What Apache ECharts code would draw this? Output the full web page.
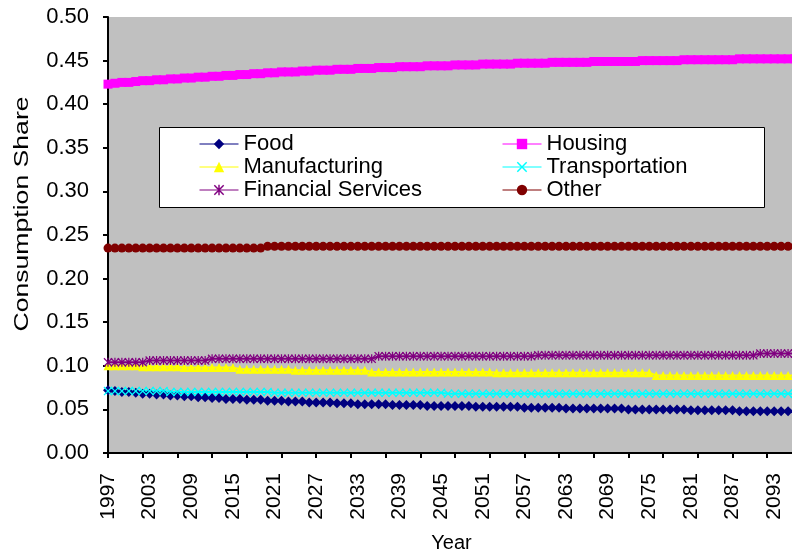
<!DOCTYPE html>
<html>
<head>
<meta charset="utf-8">
<title>Consumption Share</title>
<script src="https://cdn.jsdelivr.net/npm/echarts@6/dist/echarts.min.js"></script>
<style>
  html, body { margin: 0; padding: 0; background: #ffffff; }
  #main { width: 792px; height: 557px; }
</style>
</head>
<body>
<div id="main"></div>
<script>
// 年份
var years = [
  '1997','1998','1999','2000','2001','2002','2003','2004','2005','2006',
  '2007','2008','2009','2010','2011','2012','2013','2014','2015','2016',
  '2017','2018','2019','2020','2021','2022','2023','2024','2025','2026',
  '2027','2028','2029','2030','2031','2032','2033','2034','2035','2036',
  '2037','2038','2039','2040','2041','2042','2043','2044','2045','2046',
  '2047','2048','2049','2050','2051','2052','2053','2054','2055','2056',
  '2057','2058','2059','2060','2061','2062','2063','2064','2065','2066',
  '2067','2068','2069','2070','2071','2072','2073','2074','2075','2076',
  '2077','2078','2079','2080','2081','2082','2083','2084','2085','2086',
  '2087','2088','2089','2090','2091','2092','2093','2094','2095','2096'
];

var food = [
  0.072,0.071,0.070,0.070,0.069,0.068,0.068,0.067,0.067,0.066,
  0.066,0.065,0.065,0.064,0.064,0.063,0.063,0.062,0.062,0.062,
  0.061,0.061,0.061,0.060,0.060,0.060,0.059,0.059,0.059,0.058,
  0.058,0.058,0.058,0.057,0.057,0.057,0.056,0.056,0.056,0.056,
  0.056,0.055,0.055,0.055,0.055,0.055,0.054,0.054,0.054,0.054,
  0.054,0.054,0.054,0.053,0.053,0.053,0.053,0.053,0.053,0.053,
  0.052,0.052,0.052,0.052,0.052,0.052,0.051,0.051,0.051,0.051,
  0.051,0.051,0.051,0.051,0.051,0.050,0.050,0.050,0.050,0.050,
  0.050,0.050,0.050,0.050,0.049,0.049,0.049,0.049,0.049,0.049,
  0.049,0.048,0.048,0.048,0.048,0.048,0.048,0.048,0.048,0.048
];

var housing = [
  0.423,0.424,0.425,0.425,0.426,0.427,0.427,0.428,0.428,0.429,
  0.429,0.430,0.430,0.431,0.431,0.432,0.432,0.433,0.433,0.434,
  0.434,0.435,0.435,0.436,0.436,0.437,0.437,0.437,0.438,0.438,
  0.439,0.439,0.439,0.440,0.440,0.440,0.441,0.441,0.441,0.442,
  0.442,0.442,0.443,0.443,0.443,0.443,0.444,0.444,0.444,0.444,
  0.445,0.445,0.445,0.445,0.446,0.446,0.446,0.446,0.446,0.447,
  0.447,0.447,0.447,0.447,0.448,0.448,0.448,0.448,0.448,0.448,
  0.449,0.449,0.449,0.449,0.449,0.449,0.449,0.450,0.450,0.450,
  0.450,0.450,0.450,0.451,0.451,0.451,0.451,0.451,0.451,0.451,
  0.451,0.452,0.452,0.452,0.452,0.452,0.452,0.452,0.452,0.452
];

var manufacturing = [
  0.100,0.100,0.100,0.100,0.100,0.099,0.099,0.099,0.099,0.099,
  0.099,0.098,0.098,0.098,0.098,0.098,0.098,0.098,0.098,0.096,
  0.096,0.096,0.096,0.096,0.096,0.096,0.096,0.095,0.095,0.095,
  0.095,0.095,0.095,0.095,0.095,0.095,0.095,0.095,0.093,0.093,
  0.093,0.093,0.093,0.093,0.093,0.093,0.093,0.093,0.093,0.093,
  0.093,0.093,0.093,0.093,0.093,0.093,0.092,0.092,0.092,0.092,
  0.092,0.092,0.092,0.092,0.092,0.092,0.092,0.092,0.092,0.092,
  0.092,0.092,0.092,0.092,0.092,0.092,0.092,0.092,0.092,0.089,
  0.089,0.089,0.089,0.089,0.089,0.089,0.089,0.089,0.089,0.089,
  0.089,0.089,0.089,0.089,0.089,0.089,0.089,0.089,0.089,0.089
];

var transportation = [
  0.071,0.071,0.071,0.071,0.071,0.071,0.071,0.071,0.071,0.070,
  0.070,0.070,0.070,0.070,0.070,0.070,0.070,0.070,0.070,0.070,
  0.070,0.070,0.070,0.070,0.069,0.069,0.069,0.069,0.069,0.069,
  0.069,0.069,0.069,0.069,0.069,0.069,0.069,0.069,0.069,0.069,
  0.069,0.069,0.069,0.069,0.069,0.069,0.069,0.069,0.069,0.068,
  0.068,0.068,0.068,0.068,0.068,0.068,0.068,0.068,0.068,0.068,
  0.068,0.068,0.068,0.068,0.068,0.068,0.068,0.068,0.068,0.068,
  0.068,0.068,0.068,0.068,0.068,0.068,0.068,0.068,0.068,0.068,
  0.068,0.068,0.068,0.068,0.068,0.068,0.068,0.068,0.068,0.068,
  0.068,0.068,0.068,0.068,0.068,0.068,0.068,0.068,0.068,0.068
];

var financial = [
  0.104,0.104,0.104,0.104,0.104,0.104,0.106,0.106,0.106,0.106,
  0.106,0.106,0.106,0.106,0.106,0.108,0.108,0.108,0.108,0.108,
  0.108,0.108,0.108,0.108,0.108,0.108,0.108,0.108,0.108,0.108,
  0.108,0.108,0.108,0.108,0.108,0.108,0.108,0.108,0.108,0.111,
  0.111,0.111,0.111,0.111,0.111,0.111,0.111,0.111,0.111,0.111,
  0.111,0.111,0.111,0.111,0.111,0.111,0.111,0.111,0.111,0.111,
  0.111,0.111,0.112,0.112,0.112,0.112,0.112,0.112,0.112,0.112,
  0.112,0.112,0.112,0.112,0.112,0.112,0.112,0.112,0.112,0.112,
  0.112,0.112,0.112,0.112,0.112,0.112,0.112,0.112,0.112,0.112,
  0.112,0.112,0.112,0.112,0.114,0.114,0.114,0.114,0.114,0.114
];

var other = [
  0.235,0.235,0.235,0.235,0.235,0.235,0.235,0.235,0.235,0.235,
  0.235,0.235,0.235,0.235,0.235,0.235,0.235,0.235,0.235,0.235,
  0.235,0.235,0.235,0.237,0.237,0.237,0.237,0.237,0.237,0.237,
  0.237,0.237,0.237,0.237,0.237,0.237,0.237,0.237,0.237,0.237,
  0.237,0.237,0.237,0.237,0.237,0.237,0.237,0.237,0.237,0.237,
  0.237,0.237,0.237,0.237,0.237,0.237,0.237,0.237,0.237,0.237,
  0.237,0.237,0.237,0.237,0.237,0.237,0.237,0.237,0.237,0.237,
  0.237,0.237,0.237,0.237,0.237,0.237,0.237,0.237,0.237,0.237,
  0.237,0.237,0.237,0.237,0.237,0.237,0.237,0.237,0.237,0.237,
  0.237,0.237,0.237,0.237,0.237,0.237,0.237,0.237,0.237,0.237
];

var yTicks = ['0.00','0.05','0.10','0.15','0.20','0.25','0.30','0.35','0.40','0.45','0.50'];

// 标记形状
var xMark = 'path://M0,1 L1,0 L5,4 L9,0 L10,1 L6,5 L10,9 L9,10 L5,6 L1,10 L0,9 L4,5 Z';
var starMark = 'path://M0,1 L1,0 L5,4 L9,0 L10,1 L6,5 L10,9 L9,10 L5,6 L1,10 L0,9 L4,5 Z M4.3,0 L5.7,0 L5.7,10 L4.3,10 Z';

var FONT = 'Liberation Sans, Arial, sans-serif';

function makeSeries(name, data, color, symbol, size) {
  return {
    name: name,
    type: 'line',
    data: data,
    symbol: symbol,
    symbolSize: size,
    showAllSymbol: true,
    animation: false,
    lineStyle: { color: color, width: 2 },
    itemStyle: { color: color, borderWidth: 0 },
    emphasis: { disabled: true }
  };
}

function legendCol(names, left) {
  return {
    data: names,
    orient: 'vertical',
    left: left,
    top: 133,
    padding: 0,
    itemWidth: 39,
    itemHeight: 13,
    itemGap: 1,
    lineStyle: { width: 1 },
    textStyle: { color: '#000', fontSize: 22, fontFamily: FONT },
    z: 5
  };
}

var chart = echarts.init(document.getElementById('main'));
chart.setOption({
  animation: false,
  textStyle: { fontFamily: FONT },
  grid: {
    left: 108,
    right: -3,
    top: 17,
    bottom: 104,
    containLabel: false,
    outerBoundsMode: 'none',
    show: true,
    backgroundColor: '#c0c0c0',
    borderWidth: 0
  },
  graphic: [
    {
      type: 'rect',
      z: 3,
      shape: { x: 159.5, y: 127.5, width: 605, height: 80 },
      style: { fill: '#ffffff', stroke: '#000000', lineWidth: 1 }
    },
    {
      // 纵轴标题
      type: 'text',
      x: 22,
      y: 214,
      rotation: Math.PI / 2,
      scaleX: 1.33,
      z: 5,
      style: {
        text: 'Consumption Share',
        fill: '#000',
        font: '20px ' + FONT,
        align: 'center',
        verticalAlign: 'middle'
      }
    }
  ],
  legend: [
    legendCol(['Food', 'Manufacturing', 'Financial Services'], 199),
    legendCol(['Housing', 'Transportation', 'Other'], 502)
  ],
  xAxis: {
    type: 'category',
    data: years,
    boundaryGap: false,
    name: 'Year',
    nameLocation: 'middle',
    nameGap: 80,
    nameTextStyle: { color: '#000', fontSize: 20, fontFamily: FONT },
    axisLine: { lineStyle: { color: '#000', width: 2 } },
    axisTick: { interval: 4, length: 5, lineStyle: { color: '#000', width: 2 } },
    axisLabel: { interval: 5, rotate: 90, margin: 20, color: '#000', fontSize: 21, fontFamily: FONT },
    splitLine: { show: false }
  },
  yAxis: {
    type: 'value',
    min: 0,
    max: 0.5,
    interval: 0.05,
    axisLine: { show: true, lineStyle: { color: '#000', width: 2 } },
    axisTick: { show: true, length: 5, lineStyle: { color: '#000', width: 2 } },
    axisLabel: {
      margin: 19,
      color: '#000',
      fontSize: 22,
      fontFamily: FONT,
      formatter: function (v) { return yTicks[Math.round(v / 0.05)]; }
    },
    splitLine: { show: false }
  },
  series: [
    makeSeries('Food', food, '#000080', 'diamond', 10),
    makeSeries('Housing', housing, '#ff00ff', 'rect', 9),
    makeSeries('Manufacturing', manufacturing, '#ffff00', 'triangle', 9),
    makeSeries('Transportation', transportation, '#00ffff', xMark, 9),
    makeSeries('Financial Services', financial, '#800080', starMark, 9),
    makeSeries('Other', other, '#800000', 'circle', 9)
  ]
});
</script>
</body>
</html>
